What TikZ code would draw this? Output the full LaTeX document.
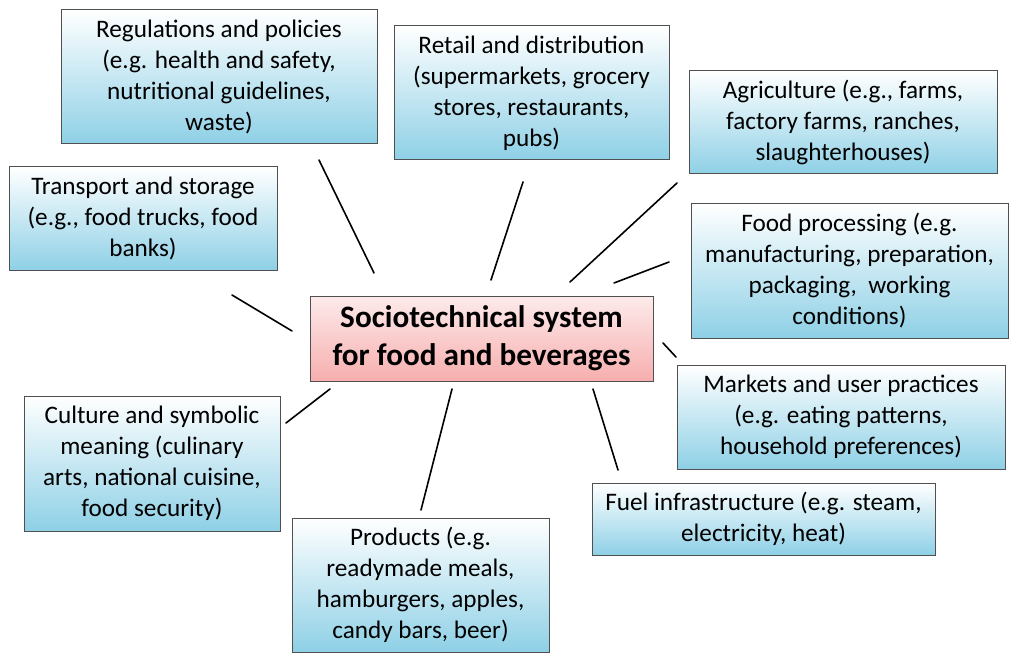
\documentclass[tikz,border=0pt]{standalone}
\usepackage{fontspec}
\setmainfont{Carlito}
\definecolor{boxblue}{RGB}{142,208,230}
\definecolor{boxpink}{RGB}{247,174,174}
\definecolor{boxline}{RGB}{80,80,80}
\tikzset{
  factor/.style={draw=boxline, line width=1pt, top color=white, bottom color=boxblue,
    align=center, inner sep=0pt, font=\fontsize{25.2}{31}\selectfont},
  hub/.style={draw=boxline, line width=1pt, top color=boxpink!25, bottom color=boxpink,
    align=center, inner sep=0pt, font=\fontsize{31.2}{38}\selectfont\bfseries},
  spoke/.style={line width=1.6pt, line cap=round}
}
\begin{document}
\begin{tikzpicture}[x=1pt,y=-1pt]
\useasboundingbox (0,0) rectangle (1009,655);

% The system in the middle
\node [hub, minimum width=343pt, minimum height=85pt] (system) at (481.5,338.5)
  {Sociotechnical system\\for food and beverages};

% Elements of the system around it
\node [factor, minimum width=316pt, minimum height=134pt] (regulations) at (219,77)
  {Regulations and policies\\(e.g. health and safety,\\nutritional guidelines,\\waste)};
\node [factor, minimum width=275pt, minimum height=134pt] (retail) at (531.5,93)
  {Retail and distribution\\(supermarkets, grocery\\stores, restaurants,\\pubs)};
\node [factor, minimum width=308pt, minimum height=103pt] (agriculture) at (843,122.5)
  {Agriculture (e.g., farms,\\factory farms, ranches,\\slaughterhouses)};
\node [factor, minimum width=268pt, minimum height=103pt] (transport) at (143,218.5)
  {Transport and storage\\(e.g., food trucks, food\\banks)};
\node [factor, minimum width=317pt, minimum height=134pt] (processing) at (849.5,271)
  {Food processing (e.g.\\manufacturing, preparation,\\packaging,~ working\\conditions)};
\node [factor, minimum width=328pt, minimum height=104pt] (markets) at (841,417)
  {Markets and user practices\\(e.g. eating patterns,\\household preferences)};
\node [factor, minimum width=256pt, minimum height=135pt] (culture) at (152,463.5)
  {Culture and symbolic\\meaning (culinary\\arts, national cuisine,\\food security)};
\node [factor, minimum width=343pt, minimum height=72pt] (fuel) at (763.5,519)
  {Fuel infrastructure (e.g. steam,\\electricity, heat)};
\node [factor, minimum width=257pt, minimum height=134pt] (products) at (420.5,585)
  {Products (e.g.\\readymade meals,\\hamburgers, apples,\\candy bars, beer)};

% Ends of the spokes, which stop short of the boxes
\coordinate (s1) at (374,273); \coordinate (e1) at (319,160);
\coordinate (s2) at (491,280); \coordinate (e2) at (523,182);
\coordinate (s3) at (570,282); \coordinate (e3) at (677,183);
\coordinate (s4) at (614,283); \coordinate (e4) at (669,262);
\coordinate (s5) at (292,331); \coordinate (e5) at (232,295);
\coordinate (s6) at (663,343); \coordinate (e6) at (676,357);
\coordinate (s7) at (330,389); \coordinate (e7) at (286,423);
\coordinate (s8) at (452,389); \coordinate (e8) at (421,510);
\coordinate (s9) at (593,389); \coordinate (e9) at (618,470);

% Spokes
\foreach \i in {1,...,9}
	\draw [spoke] (s\i)--(e\i);
\end{tikzpicture}
\end{document}
